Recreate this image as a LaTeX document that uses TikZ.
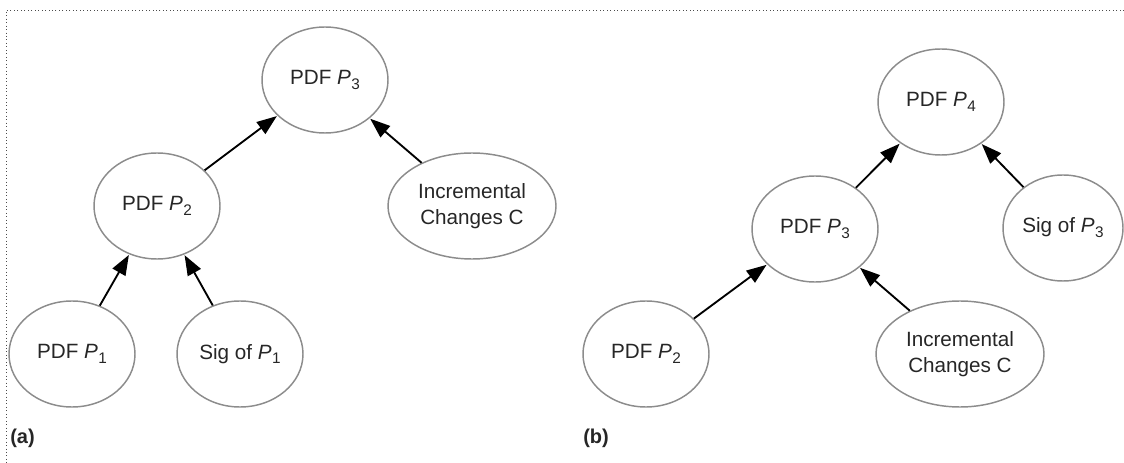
\documentclass[tikz,border=0pt]{standalone}
\usepackage{fontspec}
\setmainfont{Liberation Sans}
\usetikzlibrary{shapes.geometric,arrows.meta}
\newcommand\Pn[1]{\textit{P}\kern0.3pt\raisebox{-0.45ex}{\fontsize{11.5}{12}\selectfont #1}}
\begin{document}
\begin{tikzpicture}[x=0.75pt,y=-0.75pt,
  ell/.style={ellipse,draw=black!45,line width=1.1pt,minimum width=94.5pt,minimum height=79.5pt,inner sep=0pt,font=\fontsize{15.5}{19.5}\selectfont,align=center,text=black!85},
  wide/.style={ell,minimum width=126pt},
  arr/.style={-{Triangle[length=15pt,width=11pt]},line width=1.4pt,black,shorten >=0.5pt},
  lab/.style={font=\fontsize{15}{18}\selectfont\bfseries,anchor=west,inner sep=0pt,text=black!85},
  frame/.style={dotted,line width=0.6pt,black!70}]
\useasboundingbox (0,0) rectangle (1124,463);
% frame
\coordinate (ftr) at (1124,10);
\coordinate (ftl) at (6,10);
\coordinate (fbl) at (6,463);
\draw[frame] (ftr) -- (ftl) -- (fbl);
% (a)
\node[ell]  (a3)   at (325,80)  {PDF \Pn{3}};
\node[ell]  (a2)   at (157,206) {PDF \Pn{2}};
\node[wide] (ainc) at (472,206) {Incremental\\Changes C};
\node[ell]  (a1)   at (72,354)  {PDF \Pn{1}};
\node[ell]  (asig) at (240,354) {Sig of \Pn{1}};
\draw[arr] (a2) -- (a3);
\draw[arr] (ainc) -- (a3);
\draw[arr] (a1) -- (a2);
\draw[arr] (asig) -- (a2);
\node[lab] (la) at (10,438) {(a)};
% (b)
\node[ell]  (b4)   at (941,102) {PDF \Pn{4}};
\node[ell]  (b3)   at (815,229) {PDF \Pn{3}};
\node[ell,minimum width=90pt] (bsig) at (1063,228) {Sig of \Pn{3}};
\node[ell]  (b2)   at (646,354) {PDF \Pn{2}};
\node[wide] (binc) at (960,354) {Incremental\\Changes C};
\draw[arr] (b3) -- (b4);
\draw[arr] (bsig) -- (b4);
\draw[arr] (b2) -- (b3);
\draw[arr] (binc) -- (b3);
\node[lab] (lb) at (583,438) {(b)};
\end{tikzpicture}
\end{document}
